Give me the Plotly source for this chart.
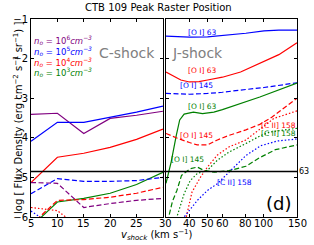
import math
import plotly.graph_objects as go

TITLE = "CTB 109 Peak Raster Position"
THRESH = -4.85
THRESH_LABEL = "63"

# ---------------- C-shock (left panel, linear v) ----------------
c_v = [5, 10, 15, 20, 25, 30]
c_oi63_n6 = [-3.41, -3.38, -3.89, -3.51, -3.43, -3.33]
c_oi63_n5 = [-4.09, -3.61, -3.61, -3.48, -3.35, -3.20]
c_oi63_n4 = [-5.13, -4.49, -4.39, -4.24, -4.04, -3.78]
c_oi63_n3 = [-6.25, -5.62, -5.53, -5.40, -5.18, -4.87]
c_oi145_n6 = [-5.13, -5.15, -5.76, -5.66, -5.58, -5.53]
c_oi145_n5 = [-5.41, -5.03, -5.10, -5.10, -5.08, -5.00]
c_oi145_n4 = [-6.20, -5.58, -5.56, -5.50, -5.40, -5.25]
c_cii_v_n4 = [5, 10, 15]
c_cii_n4 = [-5.76, -5.84, -6.35]
c_cii_v_n5 = [5, 10]
c_cii_n5 = [-5.85, -6.30]

# ---------------- J-shock (right panel, log v) ----------------
j_oi63_n5_v = [30, 35, 40, 50, 60, 80, 100, 120, 150]
j_oi63_n5 = [-1.43, -1.45, -1.46, -1.45, -1.42, -1.36, -1.30, -1.28, -1.28]
j_oi63_n4_v = [30, 33, 36, 40, 45, 50, 60, 75, 100, 120, 150]
j_oi63_n4 = [-2.34, -2.45, -2.54, -2.59, -2.58, -2.54, -2.47, -2.34, -2.08, -1.90, -1.60]
j_oi145_n5_v = [30, 40, 50, 60, 80, 100, 150]
j_oi145_n5 = [-2.88, -2.90, -2.88, -2.85, -2.78, -2.73, -2.61]
j_oi63_n3_v = [30, 32, 34, 35.5, 37.5, 42, 47, 54, 60, 70, 95, 150]
j_oi63_n3 = [-5.15, -4.60, -3.95, -3.55, -3.40, -3.35, -3.39, -3.35, -3.29, -3.18, -2.97, -2.62]
j_oi145_n4_v = [30, 34, 40, 44, 50, 56, 65, 80, 95, 110, 125, 150]
j_oi145_n4 = [-3.89, -4.00, -4.12, -4.18, -4.18, -4.06, -3.94, -3.80, -3.66, -3.48, -3.28, -3.00]
j_oi145_n3_v = [30, 31, 32.5, 34.3, 36.3, 40.4, 44.1, 47.6, 54.5, 65, 80, 95, 115, 150]
j_oi145_n3 = [-6.5, -6.0, -5.6, -5.33, -4.95, -4.78, -4.74, -4.82, -4.87, -4.83, -4.72, -4.50, -4.30, -4.18]
j_cii_n3_v = [33, 34.3, 37.5, 40.4, 44.1, 49.9, 56.3, 65, 79.7, 96.4, 108.5, 150]
j_cii_n3 = [-6.3, -6.0, -5.41, -5.08, -4.90, -4.82, -4.57, -4.36, -4.15, -3.94, -3.85, -3.76]
j_cii_n4_v = [36, 38.5, 41.3, 45.9, 49.9, 56.3, 65, 79.7, 96.4, 113, 150]
j_cii_n4 = [-6.6, -6.0, -5.37, -4.99, -4.74, -4.44, -4.23, -4.06, -3.77, -3.51, -3.32]
j_cii_n5_v = [35, 37.5, 44.1, 49.9, 56.3, 65, 80, 96, 118, 150]
j_cii_n5 = [-6.5, -6.0, -5.58, -5.33, -5.16, -4.88, -4.45, -4.20, -4.08, -4.03]

# ---------------- labels ----------------
density_labels = [
    ("<i>n<sub>o</sub></i> = 10<sup>6</sup><i>cm<sup>−3</sup></i>", "purple", -1.53),
    ("<i>n<sub>o</sub></i> = 10<sup>5</sup><i>cm<sup>−3</sup></i>", "blue", -1.81),
    ("<i>n<sub>o</sub></i> = 10<sup>4</sup><i>cm<sup>−3</sup></i>", "red", -2.09),
    ("<i>n<sub>o</sub></i> = 10<sup>3</sup><i>cm<sup>−3</sup></i>", "green", -2.34),
]
line_labels = [
    ("[O I] 63", "blue", 47.2, -1.33),
    ("[O I] 63", "red", 47.2, -2.31),
    ("[O I] 145", "blue", 43.9, -2.69),
    ("[O I] 63", "green", 47.2, -3.22),
    ("[O I] 145", "red", 43.9, -3.93),
    ("[O I] 145", "green", 39.3, -4.56),
    ("[C II] 158", "red", 119, -3.68),
    ("[C II] 158", "green", 119, -3.90),
    ("[C II] 158", "blue", 69.2, -5.14),
]
left_xticks = [5, 10, 15, 20, 25, 30]
left_xticktext = ["5", "10", "15", "20", "25", ""]
right_xticks = [30, 40, 50, 60, 80, 100, 150]
right_xticktext = ["30", "40", "50", "60", "80", "100", "150"]
yticks = [-1, -2, -3, -4, -5, -6]

FONT = "DejaVu Sans"
DASH = "5px,2.5px"
DOT = "1.5px,2px"

fig = go.Figure()

def add(x, y, color, dash, right):
    fig.add_trace(go.Scatter(
        x=x, y=y, mode="lines",
        line=dict(color=color, width=1.2, dash=dash),
        xaxis="x2" if right else "x", yaxis="y2" if right else "y",
        showlegend=False, hoverinfo="skip"))

# left
add(c_v, c_oi63_n6, "purple", "solid", False)
add(c_v, c_oi63_n5, "blue", "solid", False)
add(c_v, c_oi63_n4, "red", "solid", False)
add(c_v, c_oi63_n3, "green", "solid", False)
add(c_v, c_oi145_n6, "purple", DASH, False)
add(c_v, c_oi145_n5, "blue", DASH, False)
add(c_v, c_oi145_n4, "red", DASH, False)
add(c_cii_v_n4, c_cii_n4, "red", DOT, False)
add(c_cii_v_n5, c_cii_n5, "blue", DOT, False)
# right
add(j_oi63_n5_v, j_oi63_n5, "blue", "solid", True)
add(j_oi63_n4_v, j_oi63_n4, "red", "solid", True)
add(j_oi145_n5_v, j_oi145_n5, "blue", DASH, True)
add(j_oi63_n3_v, j_oi63_n3, "green", "solid", True)
add(j_oi145_n4_v, j_oi145_n4, "red", DASH, True)
add(j_oi145_n3_v, j_oi145_n3, "green", DASH, True)
add(j_cii_n3_v, j_cii_n3, "green", DOT, True)
add(j_cii_n4_v, j_cii_n4, "red", DOT, True)
add(j_cii_n5_v, j_cii_n5, "blue", DOT, True)

fig.add_shape(type="line", xref="paper", x0=0, x1=1, yref="y", y0=THRESH, y1=THRESH,
              line=dict(color="black", width=1.5))

ann = []
ann.append(dict(text=THRESH_LABEL, xref="paper", x=1, xanchor="left", xshift=0,
                yref="y", y=THRESH, yanchor="middle", showarrow=False,
                font=dict(size=8, color="black")))
for t, c, y in density_labels:
    ann.append(dict(text=t, xref="x", x=5.1, xanchor="left", yref="y", y=y,
                    yanchor="middle", showarrow=False, font=dict(size=8.5, color=c)))
for t, c, v, y in line_labels:
    ann.append(dict(text=t, xref="x2", x=math.log10(v), xanchor="center", yref="y2", y=y,
                    yanchor="middle", showarrow=False, font=dict(size=7.5, color=c)))
# x tick labels placed just under the axis (matplotlib-like spacing)
for v, t in zip(left_xticks, left_xticktext):
    if t:
        ann.append(dict(text=t, xref="x", x=v, yref="paper", y=0, yanchor="top",
                        yshift=1, showarrow=False, font=dict(size=10, color="black")))
for v, t in zip(right_xticks, right_xticktext):
    ann.append(dict(text=t, xref="x2", x=math.log10(v), yref="paper", y=0, yanchor="top",
                    yshift=1, showarrow=False, font=dict(size=10, color="black")))
ann.append(dict(text="C-shock", xref="x", x=23.2, yref="y", y=-1.86, showarrow=False,
                font=dict(size=14, color="gray")))
ann.append(dict(text="J-shock", xref="x2", x=math.log10(44.3), yref="y2", y=-1.86,
                showarrow=False, font=dict(size=14, color="gray")))
ann.append(dict(text="(d)", xref="x2", x=math.log10(119), yref="y2", y=-5.65,
                showarrow=False, font=dict(size=18, color="black")))
ann.append(dict(text=TITLE, xref="paper", x=0.48, yref="paper", y=1.0556,
                yanchor="middle", showarrow=False, font=dict(size=10, color="black")))
ann.append(dict(text="log [ Flux Density (erg cm<sup>−2</sup> s<sup>−1</sup> sr<sup>−1</sup>) ]",
                xref="paper", x=-0.079, yref="paper", y=0.5, textangle=-90,
                showarrow=False, font=dict(size=10, color="black")))
ann.append(dict(text="<i>v<sub>shock</sub></i> (km s<sup>−1</sup>)",
                xref="paper", x=0.474, yref="paper", y=-0.089, yanchor="middle",
                showarrow=False, font=dict(size=10, color="black")))

axis_common = dict(showline=True, linecolor="black", linewidth=1, mirror="ticks",
                   ticks="inside", ticklen=3, tickcolor="black", showgrid=False,
                   zeroline=False, tickfont=dict(size=10, color="black"),
                   automargin=False, tickangle=0)

fig.update_layout(
    width=314, height=245,
    margin=dict(l=31, r=17, t=19, b=28, autoexpand=False),
    paper_bgcolor="white", plot_bgcolor="white",
    font=dict(family=FONT, color="black"),
    annotations=ann,
    xaxis=dict(domain=[0, 0.496], range=[5, 30], tickvals=left_xticks,
               showticklabels=False, anchor="y", **axis_common),
    xaxis2=dict(domain=[0.5075, 1], type="log",
                range=[math.log10(30), math.log10(150)], tickvals=right_xticks,
                showticklabels=False, anchor="y2", **axis_common),
    yaxis=dict(domain=[0, 1], range=[-6, -1], tickvals=yticks, anchor="x", **axis_common),
    yaxis2=dict(domain=[0, 1], range=[-6, -1], tickvals=yticks, anchor="x2",
                showticklabels=False, **axis_common),
)

fig.write_html("out.html", config={"displayModeBar": False},
               post_script="document.body.style.margin='0';")
